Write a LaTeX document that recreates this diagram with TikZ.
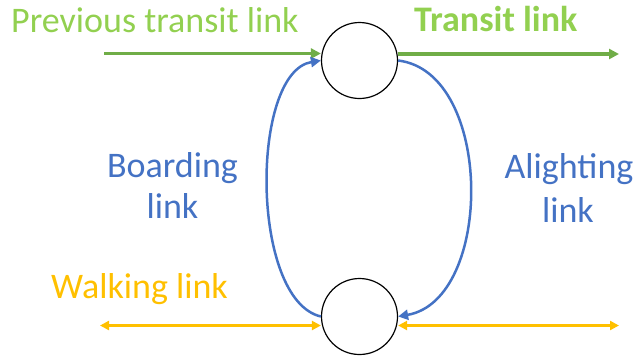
\documentclass[tikz,border=0pt]{standalone}
\usepackage{fontspec}
\setmainfont{Carlito}
\usetikzlibrary{arrows.meta}
\definecolor{lgreen}{HTML}{92D050}
\definecolor{dgreen}{HTML}{70AD47}
\definecolor{mblue}{HTML}{4472C4}
\definecolor{myellow}{HTML}{FFC000}
\begin{document}
\begin{tikzpicture}[x=1bp,y=-1bp,
  stopnode/.style={circle,draw=black,line width=1.2bp,minimum size=76bp,inner sep=0pt},
  lbl/.style={font=\fontsize{36bp}{40bp}\selectfont,inner sep=0pt,anchor=base},
  tip/.style={-{Triangle[length=10bp,width=10bp]}},
  dtip/.style={{Triangle[length=9bp,width=9bp]}-{Triangle[length=9bp,width=9bp]}}]
\useasboundingbox (0,0) rectangle (638,360);
\node[stopnode] (top) at (359.5,60.5) {};
\node[stopnode] (bot) at (359.5,316.5) {};
\coordinate (pl) at (104,53.5);
\coordinate (tr) at (619,54);
\coordinate (wl) at (100,325.5);
\coordinate (wr) at (619,325.5);
\node[lbl,text=lgreen,anchor=base west] (prev) at (11,32) {Previous transit link};
\node[lbl,text=lgreen,anchor=base west,font=\fontsize{36bp}{40bp}\selectfont\bfseries] (trans) at (414,31) {Transit link};
\node[lbl,text=mblue] (board1) at (172.5,177) {Boarding};
\node[lbl,text=mblue] (board2) at (172.5,218) {link};
\node[lbl,text=mblue] (alight1) at (569,178) {Alighting};
\node[lbl,text=mblue] (alight2) at (568,222) {link};
\node[lbl,text=myellow,anchor=base west] (walk) at (51,298) {Walking link};
\draw[dgreen,line width=2.5bp,tip] (pl) -- (top.west |- pl);
\draw[dgreen,line width=4bp,tip] (top.east |- tr) -- (tr);
\draw[mblue,line width=2.5bp,tip] (bot.west) .. controls (250,300) and (250,72) .. (top.west);
\draw[mblue,line width=2.5bp,tip] (top.east) .. controls (494,72) and (494,300) .. (bot.east);
\draw[myellow,line width=2.5bp,dtip] (wl) -- (bot.west |- wl);
\draw[myellow,line width=2.5bp,dtip] (bot.east |- wr) -- (wr);
\end{tikzpicture}
\end{document}
